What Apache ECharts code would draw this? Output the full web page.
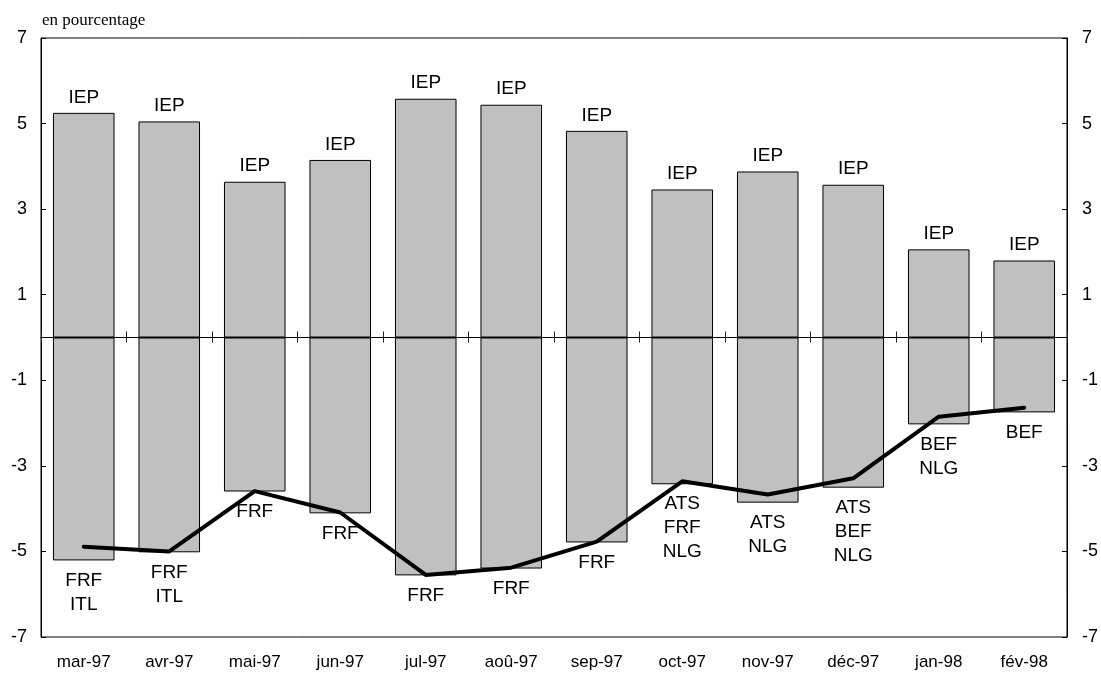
<!DOCTYPE html>
<html>
<head>
<meta charset="utf-8">
<script src="https://cdn.jsdelivr.net/npm/echarts@6/dist/echarts.min.js"></script>
<style>
  html, body { margin: 0; padding: 0; background: #fff; }
  #main { width: 1101px; height: 675px; }
</style>
</head>
<body>
<div id="main"></div>
<script>
var categories = ['mar-97', 'avr-97', 'mai-97', 'jun-97', 'jul-97', 'aoû-97', 'sep-97', 'oct-97', 'nov-97', 'déc-97', 'jan-98', 'fév-98'];
var upperBand = [5.25, 5.05, 3.64, 4.15, 5.58, 5.44, 4.83, 3.46, 3.88, 3.57, 2.06, 1.80];
var lowerBand = [-5.21, -5.02, -3.60, -4.11, -5.56, -5.40, -4.79, -3.43, -3.86, -3.51, -2.03, -1.75];
var weakest = [-4.89, -5.00, -3.59, -4.09, -5.55, -5.38, -4.77, -3.36, -3.67, -3.29, -1.85, -1.64];
var topNames = ['IEP', 'IEP', 'IEP', 'IEP', 'IEP', 'IEP', 'IEP', 'IEP', 'IEP', 'IEP', 'IEP', 'IEP'];
var bottomNames = ['FRF\nITL', 'FRF\nITL', 'FRF', 'FRF', 'FRF', 'FRF', 'FRF', 'ATS\nFRF\nNLG', 'ATS\nNLG', 'ATS\nBEF\nNLG', 'BEF\nNLG', 'BEF'];
var yTicks = [-7, -5, -3, -1, 1, 3, 5, 7];

var font = "'Liberation Sans', Arial, sans-serif";

var chart = echarts.init(document.getElementById('main'));

function yAxis(pos, margin) {
    return {
        type: 'value',
        position: pos,
        min: -7,
        max: 7,
        splitLine: { show: false },
        axisLine: { show: true, lineStyle: { color: '#000', width: 1 } },
        axisTick: { show: true, inside: true, length: 5, customValues: yTicks, lineStyle: { color: '#000' } },
        axisLabel: { customValues: yTicks, margin: margin, color: '#000', fontSize: 18, fontFamily: font }
    };
}

// two copies of the category axis sit on zero so the ticks cross the line
function zeroAxis(inside, len) {
    return {
        type: 'category',
        data: categories,
        position: 'bottom',
        axisLine: { show: true, onZero: true, lineStyle: { color: '#000', width: 1 } },
        axisTick: { show: true, inside: inside, length: len, lineStyle: { color: '#222' } },
        axisLabel: { show: false }
    };
}

var option = {
    animation: false,
    textStyle: { fontFamily: font },
    title: {
        text: 'en pourcentage',
        left: 42,
        top: 12,
        padding: 0,
        textStyle: { fontFamily: "'Liberation Serif', 'Times New Roman', serif", fontSize: 17, fontWeight: 'normal', color: '#000' }
    },
    grid: {
        left: 41, right: 33, top: 38, bottom: 38,
        show: true, borderColor: '#000', borderWidth: 1
    },
    xAxis: [
        {
            type: 'category',
            data: categories,
            position: 'bottom',
            axisLine: { show: false, onZero: false },
            axisTick: { show: false },
            axisLabel: { margin: 17, color: '#000', fontSize: 17, fontFamily: font }
        },
        zeroAxis(true, 6),
        zeroAxis(false, 5)
    ],
    yAxis: [yAxis('left', 14), yAxis('right', 15)],
    series: [
        {
            name: 'haut',
            type: 'bar',
            data: upperBand,
            barWidth: '72%',
            barGap: '-100%',
            itemStyle: { color: '#c0c0c0', borderColor: '#000', borderWidth: 1 },
            label: {
                show: true, position: 'top', distance: 6,
                formatter: function (p) { return topNames[p.dataIndex]; },
                color: '#000', fontSize: 19, fontFamily: font
            }
        },
        {
            name: 'bas',
            type: 'bar',
            data: lowerBand,
            barWidth: '72%',
            barGap: '-100%',
            itemStyle: { color: '#c0c0c0', borderColor: '#000', borderWidth: 1 },
            label: {
                show: true, position: 'bottom', distance: 8,
                formatter: function (p) { return bottomNames[p.dataIndex]; },
                color: '#000', fontSize: 19, lineHeight: 24, fontFamily: font
            }
        },
        {
            name: 'monnaie la plus faible',
            type: 'line',
            data: weakest,
            symbol: 'none',
            z: 5,
            lineStyle: { color: '#000', width: 4, cap: 'round', join: 'round' }
        }
    ]
};

chart.setOption(option);
window.addEventListener('resize', function () {
    chart.resize();
});
</script>
</body>
</html>
